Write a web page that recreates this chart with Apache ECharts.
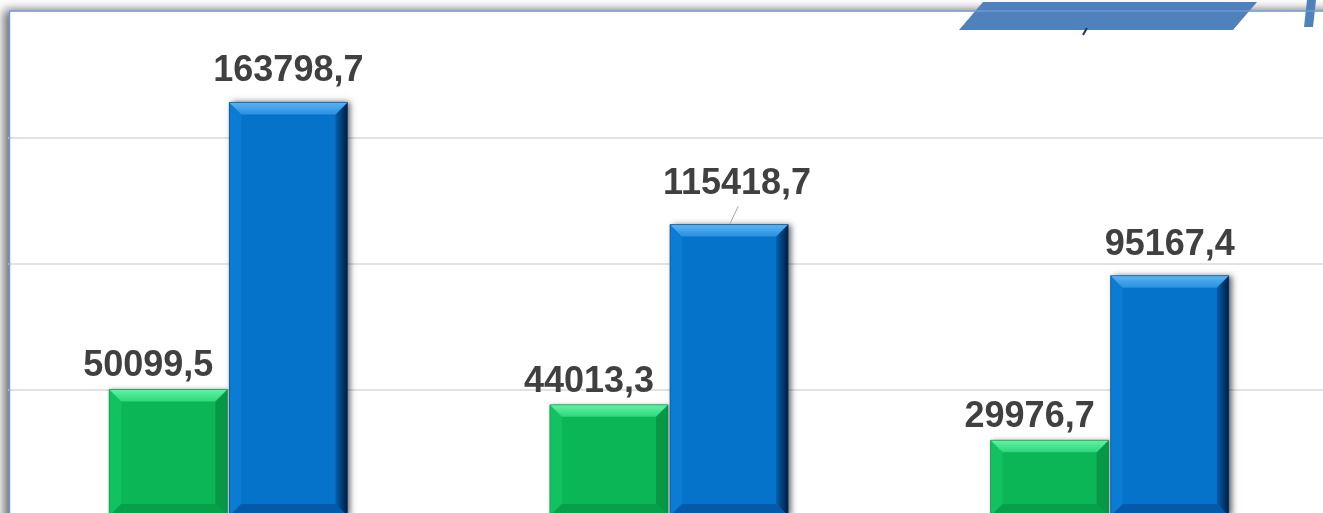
<!DOCTYPE html>
<html>
<head>
<meta charset="utf-8">
<title>bars</title>
<script src="https://cdn.jsdelivr.net/npm/echarts@6/dist/echarts.min.js"></script>
<style>
    html, body { margin: 0; padding: 0; background: #fff; overflow: hidden; }
    #chart { width: 1323px; height: 513px; }
</style>
</head>
<body>
<div id="chart"></div>
<script>
    // data
    const categories = ['1', '2', '3'];
    const greenValues = [50099.5, 44013.3, 29976.7];
    const blueValues = [163798.7, 115418.7, 95167.4];
    const yMin = 0, yMax = 200000, yStep = 50000;

    const BAR_RATIO = 0.268;   // bar width / category band
    const GAP = 2;             // px between the pair
    const BEVEL = 12;
    const FONT = 'bold 36px "Liberation Sans", Arial, sans-serif';

    // label nudges (px), key = series-category
    const labelNudge = { 'g': [-20, 0], 'b': [0, 0], 'b-1': [8, -9] };

    const palettes = {
        g: {
            face: '#0bb656', left: '#12c260', right: '#079846', bottom: '#06a04a', edge: '#078a40',
            top: new echarts.graphic.LinearGradient(0, 0, 0, 1, [{offset: 0, color: '#63f2a6'}, {offset: 1, color: '#2fd67c'}]),
            shadow: 'rgba(0,0,0,0.35)', blur: 4, sx: 1, capGap: 38
        },
        b: {
            face: '#0573c9', left: '#0b7cd3', bottom: '#045aa8', edge: '#033f78',
            right: new echarts.graphic.LinearGradient(0, 0, 1, 0, [{offset: 0, color: '#045fae'}, {offset: 1, color: '#021c40'}]),
            top: new echarts.graphic.LinearGradient(0, 0, 0, 1, [{offset: 0, color: '#5bb4f4'}, {offset: 1, color: '#2a90e0'}]),
            shadow: 'rgba(0,0,0,0.6)', blur: 6, sx: 3, capGap: 46
        }
    };

    function fmt(v) {
        return v.toFixed(1).replace('.', ',');
    }

    function bevelBar(key, side) {
        const pal = palettes[key];
        return function (params, api) {
            const idx = api.value(0), val = api.value(1);
            const base = api.coord([idx, 0]);
            const top = api.coord([idx, val]);
            const band = api.size([1, 0])[0];
            const w = band * BAR_RATIO;
            const x0 = side < 0 ? base[0] - GAP / 2 - w : base[0] + GAP / 2;
            const x1 = x0 + w, y0 = top[1], y1 = base[1], b = BEVEL;
            const cx = (x0 + x1) / 2;
            const nudge = labelNudge[key + '-' + idx] || labelNudge[key];
            const lx = cx + nudge[0];
            const ly = y0 - pal.capGap - 3 + nudge[1];   // text box top
            const children = [
                {type: 'rect', shape: {x: x0, y: y0, width: w, height: y1 - y0},
                    style: {fill: pal.face, shadowBlur: pal.blur, shadowColor: pal.shadow, shadowOffsetX: pal.sx}},
                {type: 'polygon', shape: {points: [[x0, y0], [x0 + b, y0 + b], [x0 + b, y1 - b], [x0, y1]]}, style: {fill: pal.left}},
                {type: 'polygon', shape: {points: [[x1, y0], [x1, y1], [x1 - b, y1 - b], [x1 - b, y0 + b]]}, style: {fill: pal.right}},
                {type: 'polygon', shape: {points: [[x0, y1], [x1, y1], [x1 - b, y1 - b], [x0 + b, y1 - b]]}, style: {fill: pal.bottom}},
                {type: 'polygon', shape: {points: [[x0, y0], [x1, y0], [x1 - b, y0 + b], [x0 + b, y0 + b]]}, style: {fill: pal.top}},
                {type: 'rect', shape: {x: x0, y: y0, width: w, height: y1 - y0},
                    style: {fill: 'none', stroke: pal.edge, lineWidth: 1, opacity: 0.6}},
                {type: 'text', x: lx, y: ly,
                    style: {text: fmt(val), font: FONT, fill: '#404040', align: 'center', verticalAlign: 'top'}}
            ];
            // leader line when the label was pushed off its bar
            if (nudge[1] !== 0) {
                children.push({type: 'line', shape: {x1: cx + 1, y1: y0 - 1, x2: lx + 1, y2: y0 + nudge[1] - 9},
                    style: {stroke: '#a6a6a6', lineWidth: 1}});
            }
            return {type: 'group', children: children};
        };
    }

    const chart = echarts.init(document.getElementById('chart'));
    chart.setOption({
        backgroundColor: '#fff',
        animation: false,
        grid: {left: 8, width: 1322, top: 11, height: 505, outerBoundsMode: 'none', containLabel: false},
        xAxis: {
            type: 'category', data: categories,
            axisLine: {show: false}, axisTick: {show: false}, axisLabel: {show: false}
        },
        yAxis: {
            type: 'value', min: yMin, max: yMax, interval: yStep,
            axisLine: {show: false}, axisTick: {show: false}, axisLabel: {show: false},
            splitLine: {lineStyle: {color: '#d9d9d9', width: 1.5}}
        },
        graphic: [
            // frame background with soft shadow
            {type: 'rect', z: -5, silent: true, shape: {x: 9, y: 11, width: 1500, height: 600},
                style: {fill: '#fff', shadowBlur: 10, shadowColor: 'rgba(0,0,0,0.6)', shadowOffsetX: -5, shadowOffsetY: -1}},
            // decoration top right
            {type: 'polygon', z: 50, silent: true, shape: {points: [[983, 2], [1257, 2], [1233, 30], [959, 30]]},
                style: {fill: '#4f81bd'}},
            {type: 'polygon', z: 50, silent: true, shape: {points: [[1307, 0], [1316, 0], [1313, 27], [1304, 27]]},
                style: {fill: '#4f81bd'}},
            {type: 'line', z: 50, silent: true, shape: {x1: 1087, y1: 28, x2: 1083, y2: 35},
                style: {stroke: '#1f3864', lineWidth: 2}},
            // frame line
            {type: 'rect', z: 60, silent: true, shape: {x: 9.5, y: 11, width: 1500, height: 600},
                style: {fill: 'none', stroke: '#7498ce', lineWidth: 1.5}}
        ],
        series: [
            {type: 'custom', name: 'green', renderItem: bevelBar('g', -1), data: greenValues.map((v, i) => [i, v]), z: 3},
            {type: 'custom', name: 'blue', renderItem: bevelBar('b', 1), data: blueValues.map((v, i) => [i, v]), z: 3}
        ]
    });
</script>
</body>
</html>
